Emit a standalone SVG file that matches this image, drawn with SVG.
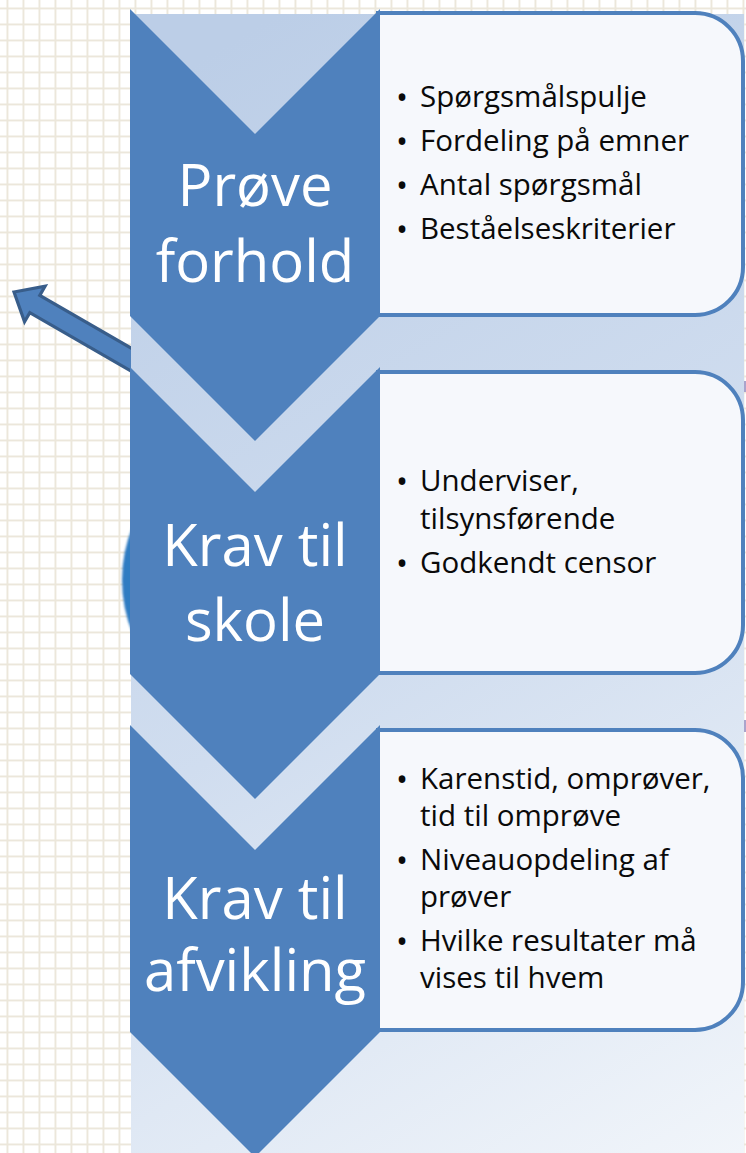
<svg xmlns="http://www.w3.org/2000/svg" width="746" height="1153" viewBox="0 0 746 1153">
  <defs>
    <pattern id="grid" patternUnits="userSpaceOnUse" x="0" y="0" width="16" height="16">
      <rect x="0" y="0" width="16" height="16" fill="#ffffff"/>
      <rect x="6.5" y="0" width="1.9" height="16" fill="#ece7db"/>
      <rect x="0" y="7.5" width="16" height="1.9" fill="#ece7db"/>
    </pattern>
    <linearGradient id="panelGrad" gradientUnits="userSpaceOnUse" x1="131" y1="100" x2="746" y2="1153">
      <stop offset="0" stop-color="#bccee7"/>
      <stop offset="0.5" stop-color="#d0ddef"/>
      <stop offset="1" stop-color="#f1f5fa"/>
    </linearGradient>
    <filter id="soft" x="-10%" y="-10%" width="120%" height="120%">
      <feGaussianBlur stdDeviation="1.2"/>
    </filter>
  </defs>
  <style>
    .chev { fill: #4f81bd; }
    .box { fill: #f6f8fc; stroke: #4f81bd; stroke-width: 4; }
    .head { font-family: "Open Sans", "Liberation Sans", sans-serif; font-size: 58px; fill: #ffffff; text-anchor: middle; }
    .item { font-family: "Open Sans", "Liberation Sans", sans-serif; font-size: 29.5px; fill: #0a0a0a; }
    .bul { font-family: "Open Sans", "Liberation Sans", sans-serif; font-size: 32px; fill: #0a0a0a; text-anchor: middle; }
  </style>

  <!-- background grid -->
  <rect x="0" y="0" width="746" height="1153" fill="url(#grid)"/>

  <!-- partial circle behind the panel -->
  <circle cx="264" cy="580" r="142" fill="#2e7bc2" filter="url(#soft)"/>

  <!-- block arrow (behind the panel) -->
  <g id="connectors">
    <path d="M0,0 L24,-20.5 L24,-10 L175,-10 L175,10 L24,10 L24,20.5 Z" transform="translate(14,292) rotate(30)" fill="#4f81bd" stroke="#385d8a" stroke-width="3.2" stroke-linejoin="miter"/>
  </g>

  <!-- background panel -->
  <rect x="131" y="14" width="613" height="1139" fill="url(#panelGrad)"/>
  <rect x="744" y="381" width="2" height="11" fill="#aaa4cc"/>
  <rect x="744" y="720" width="2" height="12" fill="#aaa4cc"/>

  <g id="node1">
    <polygon class="chev" points="130,9 255,134 380,9 380,316 255,441 130,316"/>
    <path class="box" d="M378,13 L695,13 A48,48 0 0 1 743,61 L743,267 A48,48 0 0 1 695,315 L378,315 Z"/>
    <text class="head" x="255" y="206">Prøve</text>
    <text class="head" x="255" y="282">forhold</text>
    <text class="bul" x="402" y="109">•</text><text class="item" x="420" y="107">Spørgsmålspulje</text>
    <text class="bul" x="402" y="153">•</text><text class="item" x="420" y="151">Fordeling på emner</text>
    <text class="bul" x="402" y="197">•</text><text class="item" x="420" y="195">Antal spørgsmål</text>
    <text class="bul" x="402" y="241">•</text><text class="item" x="420" y="239">Beståelseskriterier</text>
  </g>

  <g id="node2">
    <polygon class="chev" points="130,367 255,492 380,367 380,674 255,799 130,674"/>
    <path class="box" d="M378,372 L695,372 A48,48 0 0 1 743,420 L743,625 A48,48 0 0 1 695,673 L378,673 Z"/>
    <text class="head" x="255" y="566">Krav til</text>
    <text class="head" x="255" y="641">skole</text>
    <text class="bul" x="402" y="493">•</text>
    <text class="item"><tspan x="420" y="491">Underviser,</tspan><tspan x="420" y="529">tilsynsførende</tspan></text>
    <text class="bul" x="402" y="575">•</text><text class="item" x="420" y="573">Godkendt censor</text>
  </g>

  <g id="node3">
    <polygon class="chev" points="130,725 255,850 380,725 380,1032 255,1157 130,1032"/>
    <path class="box" d="M378,730 L695,730 A48,48 0 0 1 743,778 L743,982 A48,48 0 0 1 695,1030 L378,1030 Z"/>
    <text class="head" x="255" y="919">Krav til</text>
    <text class="head" x="255" y="991">afvikling</text>
    <text class="bul" x="402" y="791">•</text>
    <text class="item"><tspan x="420" y="789">Karenstid, omprøver,</tspan><tspan x="420" y="826">tid til omprøve</tspan></text>
    <text class="bul" x="402" y="872">•</text>
    <text class="item"><tspan x="420" y="870">Niveauopdeling af</tspan><tspan x="420" y="907">prøver</tspan></text>
    <text class="bul" x="402" y="953">•</text>
    <text class="item"><tspan x="420" y="951">Hvilke resultater må</tspan><tspan x="420" y="988">vises til hvem</tspan></text>
  </g>
</svg>
